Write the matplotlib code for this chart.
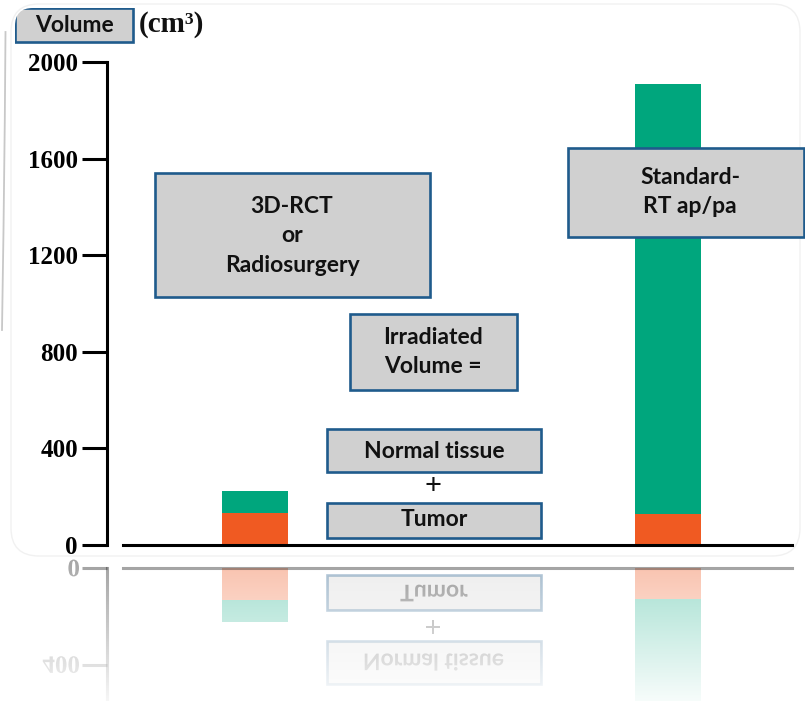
import numpy as np
import matplotlib
matplotlib.use("Agg")
import matplotlib.pyplot as plt
from matplotlib.patches import FancyBboxPatch, PathPatch, Rectangle
from matplotlib.textpath import TextPath
from matplotlib.font_manager import FontProperties
from matplotlib.transforms import Affine2D

W, H = 805, 701
DPI = 100

# irradiated volume (cm3) per technique
techniques = ["3D-RCT or Radiosurgery", "Standard-RT ap/pa"]
tumor = [133, 130]
normal_tissue = [92, 1780]
yticks = [0, 400, 800, 1200, 1600, 2000]

ORANGE = "#f05a22"
GREEN = "#00a67d"
BOX_FC = "#d0d0d0"
BOX_EC = "#1f5b8c"
REFL = 0.38          # opacity of the mirror image
MIRROR = 556.5       # pixel row of the mirror line

serif = FontProperties(family="Liberation Serif", weight="bold", size=18)
unit_fp = FontProperties(family="Liberation Serif", weight="bold", size=21)
sans = FontProperties(family="Lato", weight="bold", size=16.5)


def px_rect(x0, y0, x1, y1):
    # pixel box (y down) -> figure fraction
    return [x0 / W, 1 - y1 / H, (x1 - x0) / W, (y1 - y0) / H]


fig = plt.figure(figsize=(W / DPI, H / DPI), dpi=DPI)
fig.patch.set_facecolor("white")

# background panel
bg = fig.add_axes([0, 0, 1, 1], zorder=0)
bg.set_xlim(0, W)
bg.set_ylim(H, 0)
bg.axis("off")
bg.add_patch(FancyBboxPatch((11, 4), 789, 552, boxstyle="round,pad=0,rounding_size=28",
                            fc="white", ec="#f1f1f1", lw=1))
bg.plot([5.5, 4.8, 3.5, 2.0], [32, 120, 230, 330], color="#c8c8c8", lw=1.3)

# main bar chart
x = np.arange(len(techniques))
width = 0.16
ax = fig.add_axes(px_rect(107, 62, 792, 545), zorder=1)
ax.set_facecolor("none")
ax.set_xlim(-0.358, 1.300)
ax.set_ylim(0, 2000)
ax.bar(x, tumor, width, color=ORANGE)
ax.bar(x, normal_tissue, width, bottom=tumor, color=GREEN)
for s in ["top", "right", "bottom"]:
    ax.spines[s].set_visible(False)
ax.spines["left"].set_linewidth(2.2)
ax.set_xticks([])
ax.set_yticks(yticks, labels=[str(v) for v in yticks], fontproperties=serif)
ax.tick_params(axis="y", length=18, width=2.2, pad=3)
ax.axhline(0, xmin=0.0234, xmax=1, color="k", lw=2.2, clip_on=False)

# mirror image of the bars below the baseline
k = 483 / 2000
rax = fig.add_axes(px_rect(107, MIRROR, 792, H), zorder=1)
rax.set_facecolor("none")
rax.set_xlim(ax.get_xlim())
rax.set_ylim((H - (2 * MIRROR - 545)) / k, (MIRROR - (2 * MIRROR - 545)) / k)
rax.bar(x, tumor, width, color=ORANGE, alpha=REFL)
rax.bar(x, normal_tissue, width, bottom=tumor, color=GREEN, alpha=REFL)
for s in ["top", "right", "bottom"]:
    rax.spines[s].set_visible(False)
rax.spines["left"].set_linewidth(2.2)
rax.spines["left"].set_alpha(REFL)
rax.spines["left"].set_bounds(0, rax.get_ylim()[0])
rax.set_xticks([])
rax.set_yticks([0, 400], labels=[])
rax.tick_params(axis="y", length=18, width=2.2, color=(0, 0, 0, REFL))
rax.axhline(0, xmin=0.0234, xmax=1, color="k", lw=2.2, alpha=REFL, clip_on=False)

# annotation layer in pixel units
ov = fig.add_axes([0, 0, 1, 1], zorder=2)
ov.set_facecolor("none")
ov.set_xlim(0, W)
ov.set_ylim(H, 0)
ov.axis("off")

corner_clip = FancyBboxPatch((15, 8), 300, 300, boxstyle="round,pad=0,rounding_size=18",
                             transform=ov.transData)

boxes = [
    (15, 8, 133, 42, "Volume", 74, 25),
    (155, 173, 430, 297, "3D-RCT\nor\nRadiosurgery", 292, 236),
    (350, 314, 517, 390, "Irradiated\nVolume =", 433, 352),
    (327, 429, 541, 472, "Normal tissue", 434, 451),
    (327, 503, 541, 538, "Tumor", 434, 520),
    (568, 148, 804, 237, "Standard-\nRT ap/pa", 690, 192),
]


def flipped_text(s, cx, cy, fp, alpha, ha="center"):
    size = fp.get_size_in_points() * DPI / 72
    tp = TextPath((0, 0), s, size=size, prop=fp)
    ext = tp.get_extents()
    ox = (ext.x0 + ext.x1) / 2 if ha == "center" else ext.x1
    oy = (ext.y0 + ext.y1) / 2
    tr = Affine2D().translate(-ox, -oy).translate(cx, cy) + ov.transData
    ov.add_patch(PathPatch(tp, transform=tr, fc="#111111", ec="none", alpha=alpha))


for x0, y0, x1, y1, label, tx, ty in boxes:
    r = Rectangle((x0, y0), x1 - x0, y1 - y0, fc=BOX_FC, ec=BOX_EC, lw=1.9)
    ov.add_patch(r)
    if label == "Volume":
        r.set_clip_path(corner_clip)
    ov.text(tx, ty, label, ha="center", va="center", color="#111111",
            fontproperties=sans, linespacing=1.5)
    # reflection
    ry0, ry1 = 2 * MIRROR - y1, 2 * MIRROR - y0
    if ry0 < H:
        ov.add_patch(Rectangle((x0, ry0), x1 - x0, ry1 - ry0, fc=BOX_FC, ec=BOX_EC,
                               lw=1.9, alpha=REFL))
        flipped_text(label, tx, 2 * MIRROR - ty, sans, REFL)

plus_fp = FontProperties(family="Lato", weight="normal", size=21)
ov.text(433, 486, "+", ha="center", va="center", color="#111111", fontproperties=plus_fp)
flipped_text("+", 433, 2 * MIRROR - 486, plus_fp, REFL)

ov.text(139, 25, "(cm³)", ha="left", va="center", color="#111111", fontproperties=unit_fp)

# mirrored tick labels
for v in [0, 400]:
    ypix = 545 - k * v
    flipped_text(str(v), 79, 2 * MIRROR - ypix, serif, REFL, ha="right")

# fade the reflection out towards the bottom
fade = fig.add_axes(px_rect(0, MIRROR, W, H), zorder=3)
grad = np.ones((200, 1, 4))
grad[:, 0, 3] = np.linspace(0.0, 0.92, 200)
fade.imshow(grad, aspect="auto", extent=(0, 1, 0, 1), origin="upper")
fade.axis("off")

fig.savefig("out.png", dpi=DPI, facecolor="white")
